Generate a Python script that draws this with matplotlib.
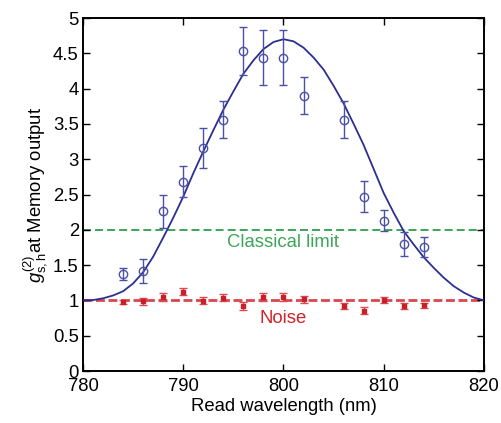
import numpy as np
import matplotlib
matplotlib.use('Agg')
import matplotlib.pyplot as plt

plt.rcParams['font.family'] = ['Liberation Sans', 'DejaVu Sans']
plt.rcParams['mathtext.fontset'] = 'custom'
plt.rcParams['mathtext.rm'] = 'Liberation Sans'
plt.rcParams['mathtext.it'] = 'Liberation Sans:italic'

# measured g2 at memory output
wl = [784, 786, 788, 790, 792, 794, 796, 798, 800, 802, 806, 808, 810, 812, 814]
g2 = [1.38, 1.41, 2.26, 2.68, 3.16, 3.56, 4.53, 4.44, 4.44, 3.90, 3.56, 2.47, 2.13, 1.80, 1.76]
g2_err = [0.085, 0.17, 0.23, 0.22, 0.28, 0.26, 0.34, 0.39, 0.39, 0.26, 0.26, 0.22, 0.145, 0.175, 0.14]

# noise level
noise = [0.98, 0.985, 1.05, 1.12, 0.995, 1.04, 0.925, 1.05, 1.05, 1.015, 0.92, 0.855, 1.005, 0.92, 0.93]
noise_err = [0.03, 0.05, 0.055, 0.05, 0.05, 0.045, 0.055, 0.06, 0.06, 0.05, 0.045, 0.045, 0.04, 0.045, 0.04]

# fit curve, every 1 nm
fit_wl = list(range(780, 821))
fit_g2 = [1.00, 1.005, 1.03, 1.07, 1.13, 1.24, 1.40, 1.62, 1.89, 2.17,
          2.47, 2.80, 3.11, 3.41, 3.70, 3.96, 4.21, 4.40, 4.56, 4.66,
          4.70, 4.67, 4.58, 4.44, 4.27, 4.04, 3.79, 3.50, 3.20, 2.86,
          2.52, 2.24, 1.98, 1.79, 1.61, 1.46, 1.32, 1.20, 1.11, 1.04, 1.00]

classical_limit = 2
noise_level = 1

blue = '#2b2f8f'
blue_err = '#4b50a6'
red = '#c8202a'
red_err = '#dc4a50'
green = '#3aa657'

fig = plt.figure(figsize=(5.01, 4.23), dpi=100)
ax = fig.add_axes([0.1657, 0.1229, 0.8003, 0.8345])

ax.axhline(classical_limit, color=green, lw=1.4, ls=(0, (4.1, 2.1)), zorder=1)
ax.axhline(noise_level, color='#d8323a', lw=2.0, ls=(0, (3.2, 1.3)), alpha=0.9, zorder=1)

ax.plot(fit_wl, fit_g2, color=blue, lw=1.3, zorder=3)

ax.errorbar(wl, noise, yerr=noise_err, fmt='s', ms=2.5, color=red,
            ecolor=red_err, elinewidth=1.0, capsize=3, capthick=1.0, zorder=4)
ax.errorbar(wl, g2, yerr=g2_err, fmt='o', ms=6, mfc='none', mec=blue_err,
            mew=1.0, ecolor=blue_err, elinewidth=1.0, capsize=3, capthick=1.0, zorder=4)

ax.text(800, 1.82, 'Classical limit', color=green, fontsize=13.3, ha='center', va='center')
ax.text(800, 0.75, 'Noise', color='#d2232a', fontsize=13.3, ha='center', va='center')

ax.set_xlim(780, 820)
ax.set_ylim(0, 5)
ax.set_xticks([780, 790, 800, 810, 820])
ax.set_yticks(np.arange(0, 5.01, 0.5))
ax.set_yticklabels(['0', '0.5', '1', '1.5', '2', '2.5', '3', '3.5', '4', '4.5', '5'])
ax.tick_params(direction='in', length=5, width=1, top=True, right=True,
               labelsize=13.3)
ax.tick_params(axis='y', pad=3)
ax.tick_params(axis='x', pad=5)
for s in ax.spines.values():
    s.set_linewidth(1.4)

ax.set_xlabel('Read wavelength (nm)', fontsize=13.3, labelpad=2)
ax.set_ylabel(r'$g^{(2)}_{\rm s,h}$at Memory output', fontsize=13.3, labelpad=2)

fig.savefig('out.png', dpi=100)
